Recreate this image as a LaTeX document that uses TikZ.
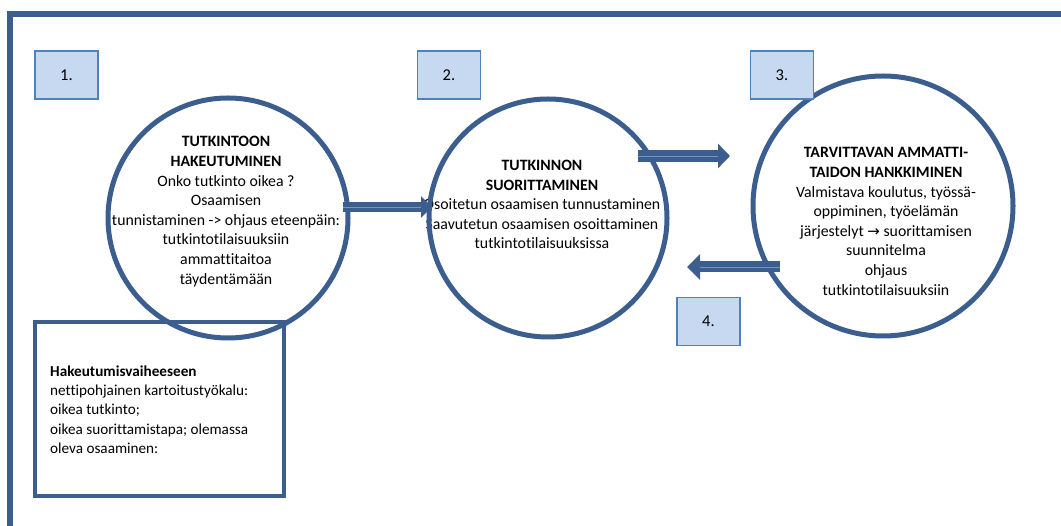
\documentclass[tikz,border=0pt]{standalone}
\usepackage{fontspec}
\setmainfont{Carlito}[Ligatures=NoCommon]
\newfontfamily\arrowfont{DejaVu Sans}
\usetikzlibrary{arrows.meta}
\definecolor{ringblue}{RGB}{59,94,143}
\definecolor{numfill}{RGB}{198,217,241}
\definecolor{numedge}{RGB}{79,129,189}
\definecolor{arrowline}{RGB}{115,150,200}
\begin{document}
\begin{tikzpicture}[x=1pt,y=-1pt,
  ring/.style={circle, draw=ringblue, line width=5pt, inner sep=0pt},
  numbox/.style={draw=numedge, fill=numfill, line width=1.5pt, minimum width=63pt, minimum height=48pt, inner sep=0pt, font=\fontsize{16.5}{19}\selectfont},
  txt/.style={align=center, inner sep=0pt, font=\fontsize{15.8}{19.6}\selectfont},
  boxtxt/.style={align=left, inner sep=0pt, font=\fontsize{15.2}{19.3}\selectfont},
  infobox/.style={draw=ringblue, line width=4.5pt, minimum width=249pt, minimum height=174pt, inner sep=0pt},
  blockarrow/.style={ringblue, line width=#1},
  innerline/.style={arrowline, line width=0.8pt}
]
\useasboundingbox (0,0) rectangle (1061,526);
\clip (0,0) rectangle (1061,526);
% outer frame
\draw[ringblue, line width=6pt] (10.3,560) -- (10.3,14) -- (1100,14);

% texts
\node[txt] (t1) at (226,211.5) {\textbf{TUTKINTOON}\\\textbf{HAKEUTUMINEN}\\Onko tutkinto oikea ?\\Osaamisen\\tunnistaminen -> ohjaus eteenpäin:\\tutkintotilaisuuksiin\\ammattitaitoa\\täydentämään};
\node[txt] (t2) at (542,204.5) {\textbf{TUTKINNON}\\\textbf{SUORITTAMINEN}\\Osoitetun osaamisen tunnustaminen\\Saavutetun osaamisen osoittaminen\\tutkintotilaisuuksissa};
\node[txt] (t3) at (886,221.5) {\textbf{TARVITTAVAN AMMATTI-}\\\textbf{TAIDON HANKKIMINEN}\\Valmistava koulutus, työssä-\\oppiminen, työelämän\\järjestelyt {\arrowfont\fontsize{15}{16}\selectfont →} suorittamisen\\suunnitelma\\ohjaus\\tutkintotilaisuuksiin};

% info box
\node[infobox] (info) at (159.5,409) {};
\node[boxtxt, anchor=west] (t4) at (50,409.5) {\textbf{Hakeutumisvaiheeseen}\\nettipohjainen kartoitustyökalu:\\oikea tutkinto;\\oikea suorittamistapa; olemassa\\oleva osaaminen:};

% circles
\node[ring, minimum size=240pt] (c1) at (228,218) {};
\node[ring, minimum size=238pt] (c2) at (548,218) {};
\node[ring, minimum size=260pt] (c3) at (883,206) {};

% arrows
\coordinate (a1s) at (343,207);
\coordinate (a1e) at (432,207);
\coordinate (a2s) at (638,156);
\coordinate (a2e) at (730,156);
\coordinate (a3s) at (780,267);
\coordinate (a3e) at (687,267);
\draw[blockarrow=10pt, -{Triangle[length=11pt,width=21pt]}] (a1s) -- (a1e);
\draw[innerline, shorten >=11pt] (a1s) -- (a1e);
\draw[blockarrow=12pt, -{Triangle[length=12pt,width=24pt]}] (a2s) -- (a2e);
\draw[innerline, shorten >=12pt] (a2s) -- (a2e);
\draw[blockarrow=11pt, -{Triangle[length=13pt,width=25pt]}] (a3s) -- (a3e);
\draw[innerline, shorten >=13pt] (a3s) -- (a3e);

% number boxes
\node[numbox] (n1) at (66.5,75) {1.};
\node[numbox] (n2) at (449,75) {2.};
\node[numbox] (n3) at (782,75) {3.};
\node[numbox] (n4) at (708.5,321.5) {4.};
\end{tikzpicture}
\end{document}
